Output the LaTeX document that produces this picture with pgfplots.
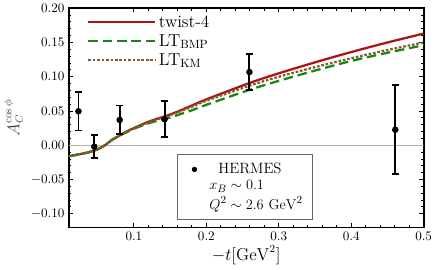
\documentclass[border=0pt]{standalone}
\usepackage{pgfplots}
\pgfplotsset{compat=1.18}
\definecolor{cRed}{RGB}{175,20,20}
\definecolor{cGreen}{RGB}{20,135,20}
\definecolor{cBrown}{RGB}{135,90,50}
\begin{document}
\begin{tikzpicture}
\pgfplotsset{
  common/.style={
    width=297pt, height=183.5pt, scale only axis,
    xmin=0.01, xmax=0.5, ymin=-0.12, ymax=0.2,
    xtick={0.1,0.2,0.3,0.4,0.5},
    ytick={-0.1,-0.05,0,0.05,0.1,0.15,0.2},
    minor x tick num=4, minor y tick num=4,
    tick align=inside,
    major tick length=3.5pt, minor tick length=2pt,
    every tick/.style={black, line width=0.8pt},
    axis line style={line width=1.6pt},
    xticklabel style={/pgf/number format/fixed, /pgf/number format/precision=1},
    yticklabel style={/pgf/number format/fixed, /pgf/number format/fixed zerofill, /pgf/number format/precision=2},
    tick label style={font=\fontsize{10.5}{12}\selectfont},
  }
}
\begin{axis}[common,
  xlabel={$-t[\mathrm{GeV}^2]$},
  ylabel={$A_C^{\cos\phi}$},
  label style={font=\fontsize{13.5}{15}\selectfont},
  ylabel style={text=black!75, xshift=0pt},
  xlabel style={yshift=2pt},
  legend image code/.code={\draw[#1] (0pt,0pt) -- (56pt,0pt);},
  legend style={draw=none, fill=none, at={(0.045,0.99)}, anchor=north west,
    font=\fontsize{14.5}{16}\selectfont, row sep=0.5pt, inner sep=2pt},
  legend cell align=left,
]
\addplot[gray!60, line width=0.6pt, forget plot] coordinates {(0.01,0) (0.5,0)};
\addplot[cRed, line width=1.9pt, smooth] coordinates {
(0.01,-0.016) (0.02,-0.014) (0.03,-0.012) (0.04,-0.0095) (0.05,-0.006) (0.055,-0.003)
(0.06,0.0) (0.065,0.004) (0.07,0.008) (0.08,0.014) (0.09,0.020) (0.10,0.025)
(0.117,0.033) (0.13,0.038) (0.145,0.043) (0.16,0.049) (0.18,0.058) (0.20,0.067)
(0.26,0.091) (0.30,0.105) (0.35,0.121) (0.40,0.136) (0.45,0.150) (0.50,0.163)};
\addlegendentry{twist-4}
\addplot[cGreen, line width=1.9pt, dash pattern=on 8pt off 4pt, smooth] coordinates {
(0.01,-0.016) (0.02,-0.014) (0.03,-0.012) (0.04,-0.0095) (0.05,-0.006) (0.055,-0.003)
(0.06,0.0) (0.065,0.004) (0.07,0.008) (0.08,0.014) (0.09,0.019) (0.10,0.024)
(0.117,0.031) (0.13,0.035) (0.145,0.039) (0.16,0.044) (0.18,0.051) (0.20,0.059)
(0.26,0.081) (0.30,0.094) (0.35,0.109) (0.40,0.123) (0.45,0.135) (0.50,0.146)};
\addlegendentry{LT$_{\mathrm{BMP}}$}
\addplot[cBrown, line width=1.9pt, dash pattern=on 2.2pt off 1.5pt, smooth] coordinates {
(0.01,-0.016) (0.02,-0.014) (0.03,-0.012) (0.04,-0.0095) (0.05,-0.006) (0.055,-0.003)
(0.06,0.0) (0.065,0.004) (0.07,0.008) (0.08,0.014) (0.09,0.020) (0.10,0.025)
(0.117,0.032) (0.13,0.037) (0.145,0.042) (0.16,0.048) (0.18,0.056) (0.20,0.065)
(0.26,0.087) (0.30,0.100) (0.35,0.114) (0.40,0.127) (0.45,0.139) (0.50,0.150)};
\addlegendentry{LT$_{\mathrm{KM}}$}
\end{axis}
\begin{axis}[common, hide axis,
  every error bar/.append style={line width=1.6pt},
  legend style={draw=black!60, line width=0.8pt, fill=white, at={(0.304,0.336)}, anchor=north west,
    font=\fontsize{12.5}{13}\selectfont, row sep=0pt, inner xsep=6pt, inner ysep=5.5pt},
  legend cell align=left,
]
\addplot[black, only marks, mark=*, mark size=2.5pt, forget plot,
  error bars/.cd, y dir=both, y explicit,
  error bar style={line width=1.6pt, black},
  error mark options={rotate=90, mark size=2.8pt, line width=1.6pt, black}]
coordinates {
(0.0235,0.0496) +- (0,0.028)
(0.0453,-0.002) +- (0,0.017)
(0.0804,0.037) +- (0,0.021)
(0.1424,0.038) +- (0,0.026)
(0.2595,0.1068) +- (0,0.026)
(0.4608,0.0227) +- (0,0.065)
};
\addlegendimage{black, only marks, mark=*, mark size=1.8pt}
\addlegendentry{\hspace{1.3em}HERMES}
\addlegendimage{empty legend}
\addlegendentry{\hspace{0.7em}$x_B\sim 0.1$}
\addlegendimage{empty legend}
\addlegendentry{\hspace{0.7em}$Q^2\sim 2.6\ \mathrm{GeV}^2$}
\end{axis}
\end{tikzpicture}
\end{document}
